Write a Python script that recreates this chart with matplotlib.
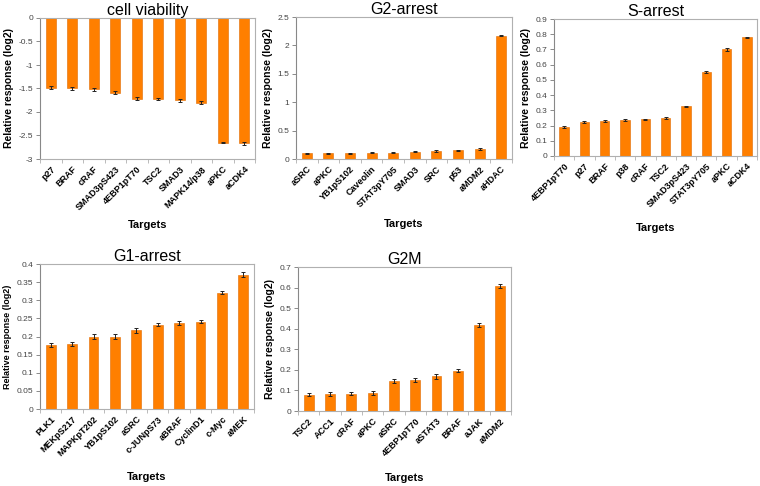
import numpy as np
import matplotlib
matplotlib.use("Agg")
import matplotlib.pyplot as plt

plt.rcParams['font.family'] = ['Liberation Sans', 'DejaVu Sans']

# data
via_names = ["p27", "BRAF", "cRAF", "SMAD3pS423", "4EBP1pT70", "TSC2", "SMAD3",
             "MAPK14/p38", "aPKC", "aCDK4"]
via_vals = [-1.48, -1.50, -1.52, -1.59, -1.72, -1.72, -1.75, -1.80, -2.65, -2.67]
via_err = [0.03, 0.03, 0.025, 0.03, 0.035, 0.025, 0.035, 0.025, 0.02, 0.025]

g2_names = ["aSRC", "aPKC", "YB1pS102", "Caveolin", "STAT3pY705", "SMAD3", "SRC",
            "p53", "aMDM2", "aHDAC"]
g2_vals = [0.10, 0.10, 0.10, 0.11, 0.11, 0.13, 0.14, 0.15, 0.17, 2.17]
g2_err = [0.01, 0.01, 0.01, 0.01, 0.008, 0.012, 0.012, 0.012, 0.02, 0.01]

s_names = ["4EBP1pT70", "p27", "BRAF", "p38", "cRAF", "TSC2", "SMAD3pS423",
           "STAT3pY705", "aPKC", "aCDK4"]
s_vals = [0.192, 0.226, 0.230, 0.236, 0.240, 0.250, 0.327, 0.550, 0.700, 0.780]
s_err = [0.006, 0.006, 0.008, 0.009, 0.005, 0.007, 0.004, 0.008, 0.008, 0.005]

g1_names = ["PLK1", "MEKpS217", "MAPKpT202", "YB1pS102", "aSRC", "c-JUNpS73",
            "aBRAF", "CyclinD1", "c-Myc", "aMEK"]
g1_vals = [0.176, 0.180, 0.200, 0.200, 0.217, 0.233, 0.238, 0.241, 0.321, 0.371]
g1_err = [0.006, 0.005, 0.007, 0.007, 0.007, 0.005, 0.006, 0.005, 0.005, 0.007]

g2m_names = ["TSC2", "ACC1", "cRAF", "aPKC", "aSRC", "4EBP1pT70", "aSTAT3",
             "BRAF", "aJAK", "aMDM2"]
g2m_vals = [0.080, 0.083, 0.085, 0.086, 0.147, 0.150, 0.168, 0.196, 0.418, 0.608]
g2m_err = [0.006, 0.008, 0.007, 0.009, 0.009, 0.008, 0.011, 0.008, 0.01, 0.011]

W, H = 760, 486
fig = plt.figure(figsize=(W / 100, H / 100), dpi=100)

orange = "#FF7F00"
frame = "#B0B0B0"


def panel(box, title, names, vals, err, ylim, step, ylsize=7.5, xlpad=10):
    x0, y0, x1, y1 = box
    ax = fig.add_axes([x0 / W, 1 - y1 / H, (x1 - x0) / W, (y1 - y0) / H])
    x = np.arange(len(names))
    ax.bar(x, vals, width=0.46, color=orange, edgecolor="#E06A00", linewidth=0.4,
           yerr=err, capsize=1.6, error_kw=dict(ecolor="#222222", elinewidth=0.7,
                                                capthick=0.7))
    ax.set_xlim(-0.5, len(names) - 0.5)
    ax.set_ylim(*ylim)
    ticks = np.arange(ylim[0], ylim[1] + step / 2, step)
    ax.set_yticks(ticks)
    ax.set_yticklabels(["%g" % round(t, 2) for t in ticks])
    ax.set_xticks(x)
    ax.set_xticklabels(names, rotation=45, ha="right", rotation_mode="anchor",
                       fontsize=6.5, fontweight="bold")
    ax.set_xticks(np.arange(len(names) + 1) - 0.5, minor=True)
    ax.tick_params(axis="x", which="major", length=0, pad=4)
    ax.tick_params(axis="x", which="minor", length=3, color=frame, width=0.6)
    ax.tick_params(axis="y", labelsize=6, length=3, color="#777777", width=0.6,
                   labelcolor="#444444", pad=2)
    for s in ax.spines.values():
        s.set_color(frame)
        s.set_linewidth(0.8)
    ax.spines["left"].set_color("#888888")
    ax.set_title(title, fontsize=11.5, pad=2)
    ax.set_ylabel("Relative response (log2)", fontsize=ylsize, fontweight="bold",
                  labelpad=3)
    ax.set_xlabel("Targets", fontsize=8, fontweight="bold", labelpad=xlpad)
    return ax


panel((40, 18, 255, 159), "cell viability", via_names, via_vals, via_err,
      (-3, 0), 0.5, xlpad=6)
panel((296, 17, 512, 159), "G2-arrest", g2_names, g2_vals, g2_err,
      (0, 2.5), 0.5, xlpad=7)
panel((554, 19, 757, 156), "S-arrest", s_names, s_vals, s_err,
      (0, 0.9), 0.1)
panel((40, 264, 254, 409), "G1-arrest", g1_names, g1_vals, g1_err,
      (0, 0.4), 0.05, ylsize=6.5)
panel((298, 267, 511, 411), "G2M", g2m_names, g2m_vals, g2m_err,
      (0, 0.7), 0.1, xlpad=11)

fig.savefig("out.png", dpi=100)
